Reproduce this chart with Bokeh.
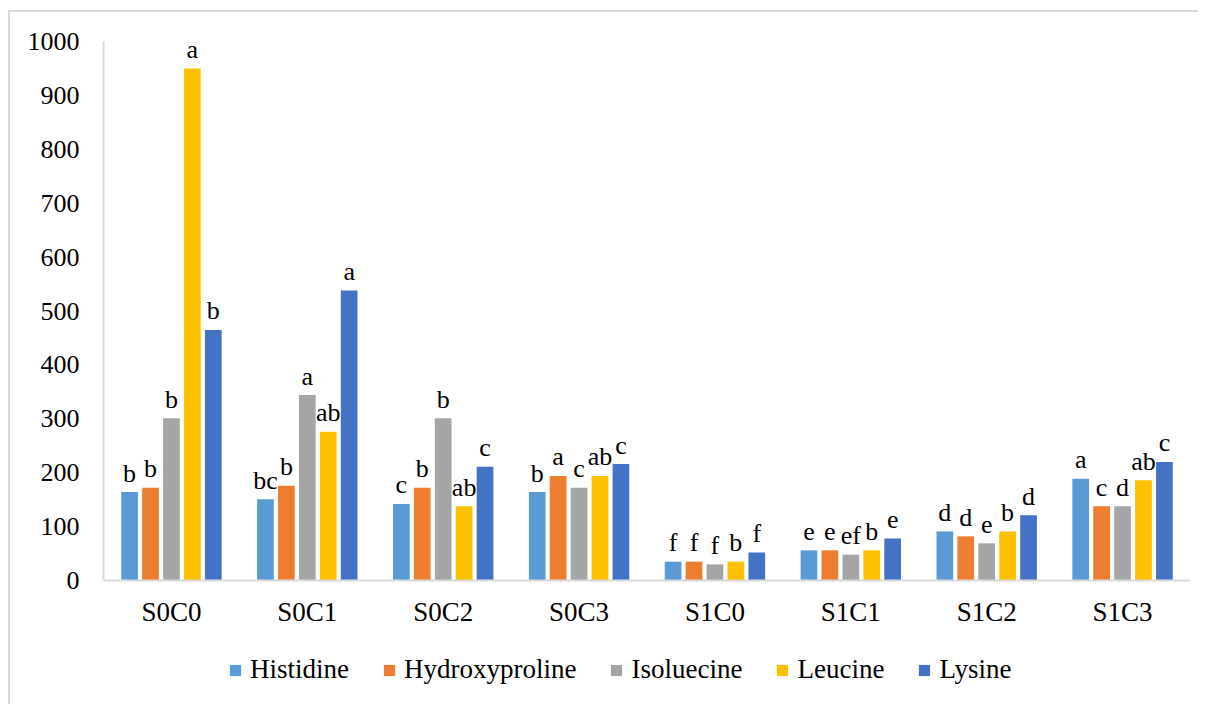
from bokeh.plotting import figure
from bokeh.models import ColumnDataSource, FactorRange, Range1d, Legend, LegendItem, FixedTicker
from bokeh.transform import dodge
from bokeh.core.properties import value
from bokeh.embed import file_html
from bokeh.resources import INLINE

# ---- data ----
categories = ["S0C0", "S0C1", "S0C2", "S0C3", "S1C0", "S1C1", "S1C2", "S1C3"]
series_names = ["Histidine", "Hydroxyproline", "Isoluecine", "Leucine", "Lysine"]
histidine = [164, 151, 142, 164, 35, 56, 91, 189]
hydroxyproline = [172, 176, 172, 194, 35, 56, 82, 138]
isoleucine = [301, 344, 301, 172, 30, 48, 69, 138]
leucine = [950, 276, 138, 194, 35, 56, 91, 186]
lysine = [465, 538, 211, 216, 52, 78, 121, 220]
histidine_letters = ["b", "bc", "c", "b", "f", "e", "d", "a"]
hydroxyproline_letters = ["b", "b", "b", "a", "f", "e", "d", "c"]
isoleucine_letters = ["b", "a", "b", "c", "f", "ef", "e", "d"]
leucine_letters = ["a", "ab", "ab", "ab", "b", "b", "b", "ab"]
lysine_letters = ["b", "a", "c", "c", "f", "e", "d", "c"]
y_ticks = [0, 100, 200, 300, 400, 500, 600, 700, 800, 900, 1000]

colors = ["#5B9BD5", "#ED7D31", "#A5A5A5", "#FFC000", "#4472C4"]
FONT = "'Liberation Serif', 'Times New Roman', serif"
FS = "26px"
FS_BIG = "27px"

source = ColumnDataSource(dict(
    cats=categories,
    v0=histidine, v1=hydroxyproline, v2=isoleucine, v3=leucine, v4=lysine,
    l0=histidine_letters, l1=hydroxyproline_letters, l2=isoleucine_letters,
    l3=leucine_letters, l4=lysine_letters,
))

# frame extends below zero to hold the category labels and legend
p = figure(x_range=FactorRange(*categories, range_padding=0), y_range=Range1d(-230, 1000),
           width=1190, height=694, output_backend="svg", toolbar_location=None,
           min_border_left=93, min_border_right=10, min_border_top=29, min_border_bottom=2)
p.margin = (10, 0, 0, 8)
p.styles = {"border-top": "2px solid #d9d9d9", "border-left": "2px solid #d9d9d9"}
p.xgrid.visible = False
p.ygrid.visible = False
p.outline_line_color = None
p.background_fill_color = "white"
p.border_fill_color = "white"

pitch = 0.154
offsets = [-2 * pitch, -pitch, 0, pitch, 2 * pitch]
items = []
for i, name in enumerate(series_names):
    xd = dodge("cats", offsets[i], range=p.x_range)
    r = p.vbar(x=xd, top="v%d" % i, bottom=0, width=0.123, source=source,
               fill_color=colors[i], line_color=None)
    p.text(x=xd, y="v%d" % i, text="l%d" % i, source=source,
           text_font=value(FONT), text_font_size=FS, text_color="black",
           text_align="center", text_baseline="alphabetic", y_offset=-19)
    items.append(LegendItem(label=name, renderers=[r]))

# axes
p.yaxis.ticker = FixedTicker(ticks=y_ticks)
p.yaxis.bounds = (0, 1000)
p.xaxis.fixed_location = 0
for ax in (p.xaxis[0], p.yaxis[0]):
    ax.axis_line_color = "#d9d9d9"
    ax.axis_line_width = 2
    ax.major_tick_line_color = None
    ax.minor_tick_line_color = None
    ax.major_tick_out = 0
    ax.major_tick_in = 0
    ax.major_label_text_font = FONT
    ax.major_label_text_font_size = FS
    ax.major_label_text_color = "black"
p.xaxis.major_label_text_font_size = FS_BIG
p.xaxis.major_label_standoff = 16
p.yaxis.major_label_standoff = 24

legend = Legend(items=items, orientation="horizontal", location=(125, 19),
                glyph_width=14, glyph_height=14, label_standoff=8, spacing=33,
                padding=0, margin=0, border_line_color=None, background_fill_alpha=0,
                label_text_font=FONT, label_text_font_size=FS_BIG, label_text_color="black")
p.add_layout(legend, "center")

open("out.html", "w").write(file_html(p, INLINE))
